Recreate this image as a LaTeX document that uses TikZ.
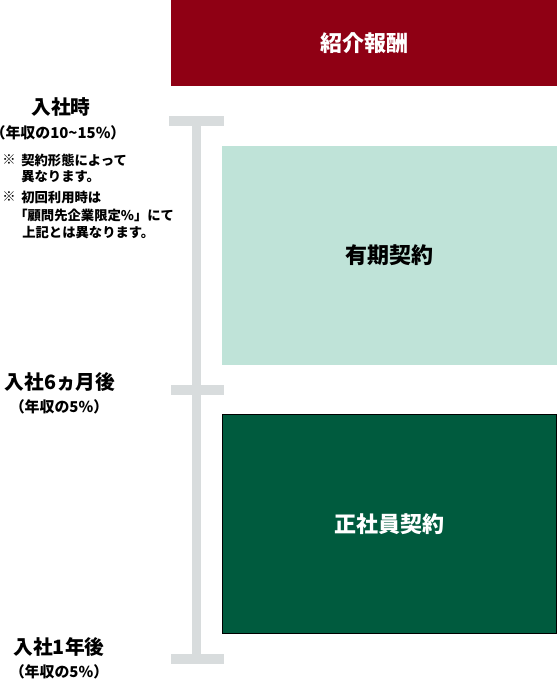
\documentclass[tikz,border=0pt]{standalone}
\usepackage{fontspec}
\newfontfamily\jp{Noto Sans CJK JP}
\definecolor{feered}{HTML}{8F0014}
\definecolor{mint}{HTML}{BFE3D8}
\definecolor{deepgreen}{HTML}{005B3E}
\definecolor{bargray}{HTML}{D8DCDD}
\tikzset{
  box/.style={inner sep=0pt, font=\jp\bfseries\fontsize{16.5pt}{20pt}\selectfont},
  head/.style={inner sep=0pt, font=\jp\bfseries\fontsize{14.8pt}{18pt}\selectfont},
  sub/.style={inner sep=0pt, font=\jp\bfseries\fontsize{11.2pt}{14pt}\selectfont},
  note/.style={inner sep=0pt, anchor=west, font=\jp\bfseries\fontsize{10pt}{12pt}\selectfont},
  notemark/.style={inner sep=0pt, font=\jp\bfseries\fontsize{10pt}{12pt}\selectfont},
  bar/.style={fill=bargray, draw=none}
}
\begin{document}
\begin{tikzpicture}[x=0.75pt,y=-0.75pt]
\useasboundingbox (0,0) rectangle (557,681);
% boxes
\node (fee) [box, fill=feered, text=white, minimum width=289.5pt, minimum height=64.5pt] at (364,43) {紹介報酬};
\node (fixed) [box, fill=mint, text=black, minimum width=251.25pt, minimum height=164.25pt] at (389.5,255.5) {有期契約};
\node (regular) [box, fill=deepgreen, draw=black, line width=1pt, text=white, minimum width=250.5pt, minimum height=164.25pt] at (389.5,524) {正社員契約};
% timeline bars
\fill[bar] (192,116) rectangle (201,664);
\fill[bar] (169,116) rectangle (224,126);
\fill[bar] (171,385) rectangle (224,395);
\fill[bar] (171,654) rectangle (224,664);
% labels
\node (t0) [head] at (61,107) {入社時};
\node (t0s) [sub] at (58,133) {（年収の10\~{}15\%）};
\node (m1) [notemark] at (9,160) {※};
\node (n1) [note] at (21,160) {契約形態によって};
\node (n2) [note] at (21,177) {異なります。};
\node (m2) [notemark] at (9,197) {※};
\node (n3) [note] at (21,197) {初回利用時は};
\node (n4) [note] at (14,215) {「顧問先企業限定\%」にて};
\node (n5) [note] at (22,233) {上記とは異なります。};
\node (t1) [head] at (60,382) {入社6ヵ月後};
\node (t1s) [sub] at (59,407) {（年収の5\%）};
\node (t2) [head] at (59,647) {入社1年後};
\node (t2s) [sub] at (59,672) {（年収の5\%）};
\end{tikzpicture}
\end{document}
